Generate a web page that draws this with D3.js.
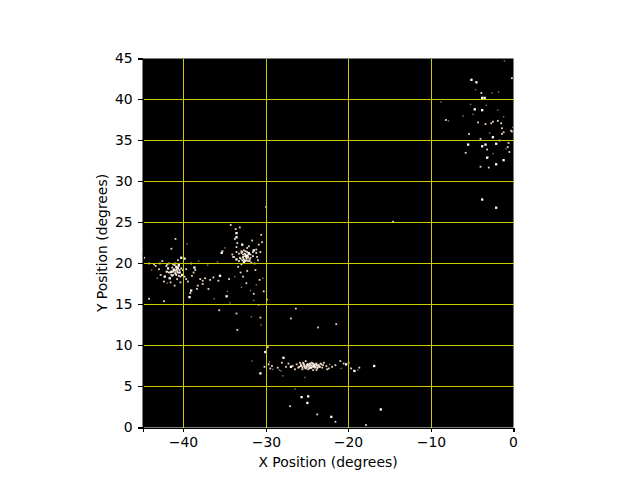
<!DOCTYPE html>
<html><head><meta charset="utf-8">
<style>html,body{margin:0;padding:0;background:#fff}svg{display:block}text{font-family:"DejaVu Sans",sans-serif;fill:#000}</style>
<script src="https://cdn.jsdelivr.net/npm/d3@7"></script>
</head><body><script>
const xTicks=[-40,-30,-20,-10,0];
const yTicks=[0,5,10,15,20,25,30,35,40,45];
// bright white stars
const brightX=[-41.2,-41,-40.7,-41.5,-40.9,-40.5,-42.3,-41.7,-40.2,-40.3,-39.1,-39.3,-35.6,-34.8,-35.4,-32.9,-33.6,-33.6,-32.7,-33.6,-39.9,-38.7,-40.6,-41.9,-32.4,-32.1,-31.5,-30.1,-27.9,-30.7,-27,-25,-24.6,-24.2,-20.3,-19.3,-16.9,-24.9,-25.7,-25,-22.1,-16.1,-3.8,-3.5,-5.1,-4.5,-4.7,-3.8,-2.5,-5.5,-3.4,-2.1,-3.8,-3.2,-2.1,-1.2,-3.8,-2.1];
const brightY=[19.2,18.8,19.4,19,19.6,18.9,18.4,18.2,18.6,20.7,16.7,15.9,18.5,16,21.3,22.3,23.7,23.2,20.2,20.5,20.6,19.5,19.9,19.4,20.9,21.2,21.6,9.2,8.5,6.6,7.4,7.6,7.3,7.5,7.7,6.9,7.5,3.8,3.7,3,1.3,2.2,40.2,40.2,42.4,42.1,38.8,38.7,35.4,34.5,34.5,34.6,34.3,32.9,32.1,32.6,27.8,26.8];
// tan, mid-brightness stars
const midX=[-44.8,-44.2,-43.6,-43.4,-43,-42.8,-42.6,-42.4,-42.1,-41.8,-41.6,-41.4,-41.3,-41.1,-40.8,-40.6,-40.4,-40.1,-39.9,-39.7,-39.5,-39.2,-39,-38.8,-38.6,-38.3,-38,-37.7,-37.4,-37,-36.8,-36.4,-42.9,-42.4,-41.5,-41,-40.7,-39.7,-39.1,-44.2,-42,-38.4,-37.7,
-35.8,-35.3,-34.5,-34.1,-33.9,-33.7,-33.5,-33.3,-33.2,-33,-32.9,-32.8,-32.7,-32.6,-32.5,-32.4,-32.3,-32.2,-32.1,-32,-31.9,-31.7,-31.6,-31.4,-31.2,-31,-30.9,-30.7,-30.5,-33.4,-33.1,-32.8,-32.3,-31.8,-31.3,-30.8,-34.3,-33.8,-33.2,-31.1,-30.6,-32.4,-31.5,-33.6,-30.3,
-30,-29.9,-26.4,-27,-23.7,-21.5,-30.7,-33.6,-33.5,-35.7,-29.8,-14.6,
-29.7,-29.5,-29.3,-28.6,-28.1,-27.6,-27.3,-26.8,-26.5,-26.3,-26.1,-25.9,-25.8,-25.6,-25.4,-25.2,-25.1,-24.9,-24.8,-24.7,-24.5,-24.4,-24.3,-24.1,-24,-23.9,-23.8,-23.6,-23.5,-23.4,-23.2,-23.1,-23,-22.7,-22.4,-22,-21.6,-21,-20.6,-20,-19.7,-18.7,-25.5,-24.9,-24.3,-23.7,-25.3,-24.6,-23.9,-22.6,-30.2,-27.1,-21.6,-17.9,-23.8,
-8.2,-4.3,-3.4,-2.7,-1.9,-1.4,-0.2,-0.3,-0.5,-5.4,-4,-0.6,-0.7,-5.8,-3,-0.2,-1.4,-4,-3.2,-2.5,-1.2,-3.9,-1.7,-1.5];
const midY=[20.7,20,19.9,19.7,19.3,18.6,20.3,17.8,19,20,17.7,18.5,19.9,17.3,18.1,19.7,17.7,19.2,18.4,18.1,17.8,16.4,18.5,18.9,19.2,17.3,18.1,17.5,18.2,16.9,18,18.3,20,15.4,21.8,23,20.4,19.3,20,15.7,19.9,16.9,17.9,
17.9,21.5,18.1,21.1,20.8,24.2,22.5,21.2,20.7,19.9,21.4,20.8,21.6,20.3,21.1,20.6,21.9,20.9,22.1,20.3,20.7,22.8,21.4,20,21.7,20.4,22.3,21.4,22.6,19.6,18.9,18.4,19.1,20.1,19.2,18,24.7,23,24.4,20.8,23.5,17.6,16.3,22,16.6,
26.9,15.6,14.5,13.3,12.2,12.6,13.4,13.9,11.9,14.3,9.8,25.1,
7.7,7.2,7.5,7.3,7.9,7.4,7.8,7.5,7.1,7.7,7.3,7.9,7.5,7.1,7.7,8.1,7.4,7.7,7.2,7.6,7.9,7.4,7,7.7,7.4,7.8,7.2,7.6,7.4,7.8,7.3,7.6,7.9,7.5,7.2,7.4,7.6,8.1,7.8,7.9,7.2,7.3,7.9,7.1,7.8,7.4,7.3,7.6,7,7.1,7.4,2.6,0.7,0.3,1.6,
37.5,37.2,37,37.1,37.4,36.5,36.1,36.2,33.6,35.8,35.2,34.7,34.2,33.5,31.7,42.6,35.8,31.8,33.9,37.3,36,40.8,35,37.1];
// dense cluster cores
const coreX=[-42.1,-41.6,-41.4,-41.3,-41.1,-41,-40.9,-40.8,-40.7,-40.6,-40.5,-40.4,-41.2,-41,-40.8,-40.6,-41.5,-41.3,-40.9,-42,-41.8,-40.3,
-34,-33.6,-33.3,-33.1,-33,-32.9,-32.8,-32.7,-32.6,-32.5,-32.4,-32.3,-32.2,-32.1,-32,-31.9,-33,-32.8,-32.6,-32.4,-32.2,-32.7,-32.5,-32.3,-31.6,-31.2,
-26,-25.8,-25.6,-25.5,-25.3,-25.2,-25,-24.8,-24.7,-24.5,-24.3,-24.2,-24,-23.8,-23.7,-23.5,-23.3,-25.4,-25.1,-24.6,-24.1,-23.9,-25.7,-24.4];
const coreY=[19.7,18.9,19.5,18.6,19.8,19.1,18.6,19.5,18.9,19.7,19.2,18.4,19.3,20,19.1,18.5,18.6,19,19.3,19,18.9,19.4,
20.8,21.4,20.3,20.6,21.3,20.4,21.1,20.2,20.9,21.5,20.4,21,20.7,21.3,20.5,21.1,21.5,20.7,21.2,20.8,20.3,20.5,20.3,21.4,20.9,21.3,
7.4,7.7,7.3,7.8,7.5,7.2,7.7,7.4,7.8,7.3,7.6,7.4,7.7,7.3,7.6,7.4,7.7,7.5,7.3,7.6,7.3,7.6,7.5,7.8];
// dim brown stars
const dimX=[-45,-43.9,-43.2,-42,-39.6,-38.2,-36.3,-35,-34.4,-33.8,-31.9,-31.5,-30.9,-30.4,-29.6,-29.2,-28.2,-31.2,-33,-34.7,-37.1,-35.9,-30.6,-31.8,-30.5,-26.5,-28.4,-22.3,-20.9,-18.9,-31.7,-28,-25.3,-8.8,-7.9,-6.1,-5.2,-4.6,-3.1,-2.9,-2.6,-1.8,-1.1,-0.9,-0.1,-2.5,-1.9,-3.3,-4.9,-1.2];
const dimY=[21,19.2,18.2,17.6,22.4,20.3,15.7,21.9,15.2,18.4,16.7,15.5,14.9,18.2,8,7.1,6.9,17.4,17.1,16.6,19.8,20.2,12.5,13.5,15,4.7,7,7.7,7.2,7,8.1,6.3,6.1,39.7,37.4,38,39.4,41.2,33,35.9,40.8,40.9,44.7,34,36.6,33.4,38.7,39.3,38.2,37.9];

const W=640,H=480,L=142.5,R=513.5,T=58.5,B=427.5;
const x=d3.scaleLinear().domain([-45,0]).range([L,R]);
const y=d3.scaleLinear().domain([0,45]).range([B,T]);
const px=v=>Math.floor(x(v))+0.5, py=v=>Math.floor(y(v))+0.5;
const svg=d3.select("body").append("svg").attr("width",W).attr("height",H);
svg.append("rect").attr("x",L).attr("y",T).attr("width",R-L).attr("height",B-T).attr("fill","#000");
function stars(xs,ys,s,fill){
  svg.append("g").selectAll("rect").data(xs.map((v,i)=>[v,ys[i]])).join("rect")
    .attr("x",d=>x(d[0])-s/2).attr("y",d=>y(d[1])-s/2).attr("width",s).attr("height",s).attr("fill",fill);
}
stars(dimX,dimY,1.4,"#8a7868");
stars(midX,midY,1.8,"#ecd4bc");
stars(coreX,coreY,1.8,"#f4e2d0");
stars(brightX,brightY,2.3,"#ffffff");
const grid=svg.append("g").attr("stroke","#cccc00").attr("stroke-width",1).attr("shape-rendering","crispEdges");
grid.selectAll(".gx").data(xTicks.slice(0,-1)).join("line").attr("x1",d=>px(d)).attr("x2",d=>px(d)).attr("y1",T).attr("y2",B);
grid.selectAll(".gy").data(yTicks.slice(1,-1)).join("line").attr("y1",d=>py(d)).attr("y2",d=>py(d)).attr("x1",L).attr("x2",R);
const xAxis=svg.append("g").attr("transform",`translate(0,${B})`).call(d3.axisBottom(x).tickValues(xTicks).tickSize(4.9).tickPadding(4.9).tickFormat(d=>d===0?"0":"\u2212"+Math.abs(d)));
const yAxis=svg.append("g").attr("transform",`translate(${L},0)`).call(d3.axisLeft(y).tickValues(yTicks).tickSize(4.9).tickPadding(4.9));
[xAxis,yAxis].forEach(a=>{a.selectAll("text").attr("font-size",13.9).attr("font-family","DejaVu Sans").attr("fill","#000");a.selectAll("line,path").attr("stroke","#000").attr("stroke-width",1).attr("shape-rendering","crispEdges");});
xAxis.selectAll("g.tick").attr("transform",d=>`translate(${px(d)},0)`);
yAxis.selectAll("g.tick").attr("transform",d=>`translate(0,${py(d)})`);
svg.append("text").attr("x",(L+R)/2).attr("y",467).attr("text-anchor","middle").attr("font-size",13.9).text("X Position (degrees)");
svg.append("text").attr("transform",`translate(107,${(T+B)/2}) rotate(-90)`).attr("text-anchor","middle").attr("font-size",13.9).text("Y Position (degrees)");
</script></body></html>
